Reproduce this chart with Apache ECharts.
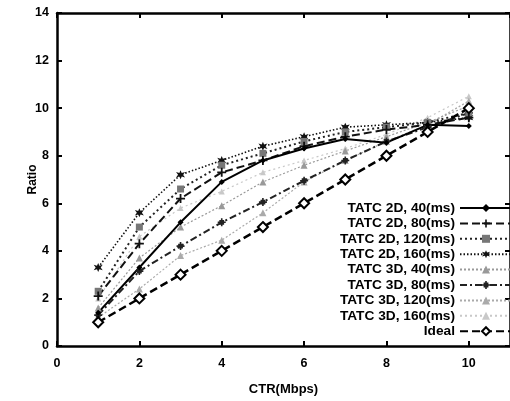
<!DOCTYPE html>
<html>
<head>
<meta charset="utf-8">
<script src="https://cdn.jsdelivr.net/npm/echarts@6/dist/echarts.min.js"></script>
<style>
  html, body { margin: 0; padding: 0; background: #fff; }
  #main { width: 510px; height: 401px; }
</style>
</head>
<body>
<div id="main"></div>
<script>
// CTR values (Mbps)
const ctr = [1, 2, 3, 4, 5, 6, 7, 8, 9, 10];

// ratio per series
const tatc2d40 = [1.4, 3.3, 5.2, 6.9, 7.8, 8.3, 8.7, 8.55, 9.3, 9.25];
const tatc2d80 = [2.1, 4.3, 6.2, 7.3, 7.8, 8.4, 8.8, 9.1, 9.3, 9.6];
const tatc2d120 = [2.3, 5.0, 6.6, 7.6, 8.1, 8.6, 9.0, 9.2, 9.4, 9.8];
const tatc2d160 = [3.3, 5.6, 7.2, 7.8, 8.4, 8.8, 9.2, 9.3, 9.4, 9.6];
const tatc3d40 = [1.6, 3.7, 5.0, 5.9, 6.9, 7.6, 8.2, 8.8, 9.4, 10.1];
const tatc3d80 = [1.3, 3.15, 4.2, 5.2, 6.05, 6.95, 7.8, 8.6, 9.2, 9.8];
const tatc3d120 = [1.2, 2.4, 3.8, 4.45, 5.6, 6.9, 7.8, 8.6, 9.3, 10.3];
const tatc3d160 = [2.0, 4.6, 5.8, 6.5, 7.3, 7.8, 8.3, 8.9, 9.6, 10.5];
const ideal = [1, 2, 3, 4, 5, 6, 7, 8, 9, 10];

const xTicks = [0, 2, 4, 6, 8, 10];
const yTicks = [0, 2, 4, 6, 8, 10, 12, 14];

const FONT = '"Liberation Sans", Arial, sans-serif';

const crossPath = 'path://M0,4 L10,4 L10,6 L0,6 Z M4,0 L6,0 L6,10 L4,10 Z';
const starPath = 'path://M5,0 L6.2,3 L9.5,2 L7.5,5 L9.5,8 L6.2,7 L5,10 L3.8,7 L0.5,8 L2.5,5 L0.5,2 L3.8,3 Z';
const gearPath = 'path://M4,0 L6,0 L6,2 L8,2 L8,4 L10,4 L10,6 L8,6 L8,8 L6,8 L6,10 L4,10 L4,8 L2,8 L2,6 L0,6 L0,4 L2,4 L2,2 L4,2 Z';

function pairs(vals) {
  return ctr.map((x, i) => [x, vals[i]]);
}

function mk(name, vals, color, width, dash, symbol, size, extra) {
  return Object.assign({
    name: name,
    type: 'line',
    data: pairs(vals),
    symbol: symbol,
    symbolSize: size,
    lineStyle: { color: color, width: width, type: dash },
    itemStyle: { color: color },
    animation: false
  }, extra || {});
}

const series = [
  mk('TATC 3D, 160(ms)', tatc3d160, '#c8c8c8', 1.2, [2, 3], 'triangle', 6),
  mk('TATC 3D, 120(ms)', tatc3d120, '#aaaaaa', 1.2, [2, 2], 'triangle', 7),
  mk('TATC 3D, 40(ms)', tatc3d40, '#999999', 1.2, [2, 2], 'triangle', 7),
  mk('TATC 3D, 80(ms)', tatc3d80, '#222222', 2, [7, 3, 2, 3], gearPath, 8),
  mk('TATC 2D, 160(ms)', tatc2d160, '#111111', 1.6, [1.5, 2], starPath, 9),
  mk('TATC 2D, 120(ms)', tatc2d120, '#222222', 2, [2, 3], 'rect', 7, { itemStyle: { color: '#777' } }),
  mk('TATC 2D, 80(ms)', tatc2d80, '#111111', 2, [8, 4], crossPath, 9),
  mk('TATC 2D, 40(ms)', tatc2d40, '#000000', 2, 'solid', 'diamond', 6),
  mk('Ideal', ideal, '#000000', 2.5, [8, 4], 'emptyDiamond', 10, { itemStyle: { color: '#000', borderWidth: 2.5 } }),
  // keeps the mirrored top / right axes alive
  { type: 'line', xAxisIndex: 1, yAxisIndex: 1, data: [], silent: true }
];

const legendOrder = [
  'TATC 2D, 40(ms)', 'TATC 2D, 80(ms)', 'TATC 2D, 120(ms)', 'TATC 2D, 160(ms)',
  'TATC 3D, 40(ms)', 'TATC 3D, 80(ms)', 'TATC 3D, 120(ms)', 'TATC 3D, 160(ms)', 'Ideal'
];

const axisLine = { show: true, onZero: false, lineStyle: { color: '#000', width: 2.5 } };
const tick = { show: true, inside: true, length: 5, lineStyle: { color: '#000', width: 2 } };

const chart = echarts.init(document.getElementById('main'));
chart.setOption({
  backgroundColor: '#fff',
  animation: false,
  grid: { left: 57, top: 13, right: -3, bottom: 52 },
  legend: {
    data: legendOrder,
    orient: 'vertical',
    align: 'right',
    right: -8,
    top: 196,
    itemWidth: 52,
    itemHeight: 10,
    itemGap: 1.4,
    textStyle: { fontFamily: FONT, fontWeight: 'bold', fontSize: 13.7, color: '#000' }
  },
  xAxis: [{
    type: 'value',
    min: 0,
    max: 11,
    interval: 2,
    name: 'CTR(Mbps)',
    nameLocation: 'middle',
    nameGap: 37,
    nameTextStyle: { fontFamily: FONT, fontWeight: 'bold', fontSize: 13, color: '#000' },
    axisLine: axisLine,
    axisTick: tick,
    splitLine: { show: false },
    axisLabel: {
      margin: 11, fontFamily: FONT, fontWeight: 'bold', fontSize: 12.5, color: '#000',
      showMaxLabel: false,
      formatter: v => (xTicks.indexOf(v) >= 0 ? String(v) : '')
    }
  }, {
    type: 'value',
    position: 'top',
    min: 0,
    max: 11,
    interval: 2,
    axisLine: axisLine,
    axisTick: tick,
    axisLabel: { show: false },
    splitLine: { show: false }
  }],
  yAxis: [{
    type: 'value',
    min: 0,
    max: 14,
    interval: 2,
    name: 'Ratio',
    nameLocation: 'middle',
    nameGap: 18,
    nameMoveOverlap: false,
    nameTextStyle: { fontFamily: FONT, fontWeight: 'bold', fontSize: 12, color: '#000' },
    axisLine: axisLine,
    axisTick: tick,
    splitLine: { show: false },
    axisLabel: {
      margin: 8, fontFamily: FONT, fontWeight: 'bold', fontSize: 12.5, color: '#000',
      formatter: v => (yTicks.indexOf(v) >= 0 ? String(v) : '')
    }
  }, {
    type: 'value',
    position: 'right',
    min: 0,
    max: 14,
    interval: 2,
    axisLine: axisLine,
    axisTick: tick,
    axisLabel: { show: false },
    splitLine: { show: false }
  }],
  series: series
});
</script>
</body>
</html>
